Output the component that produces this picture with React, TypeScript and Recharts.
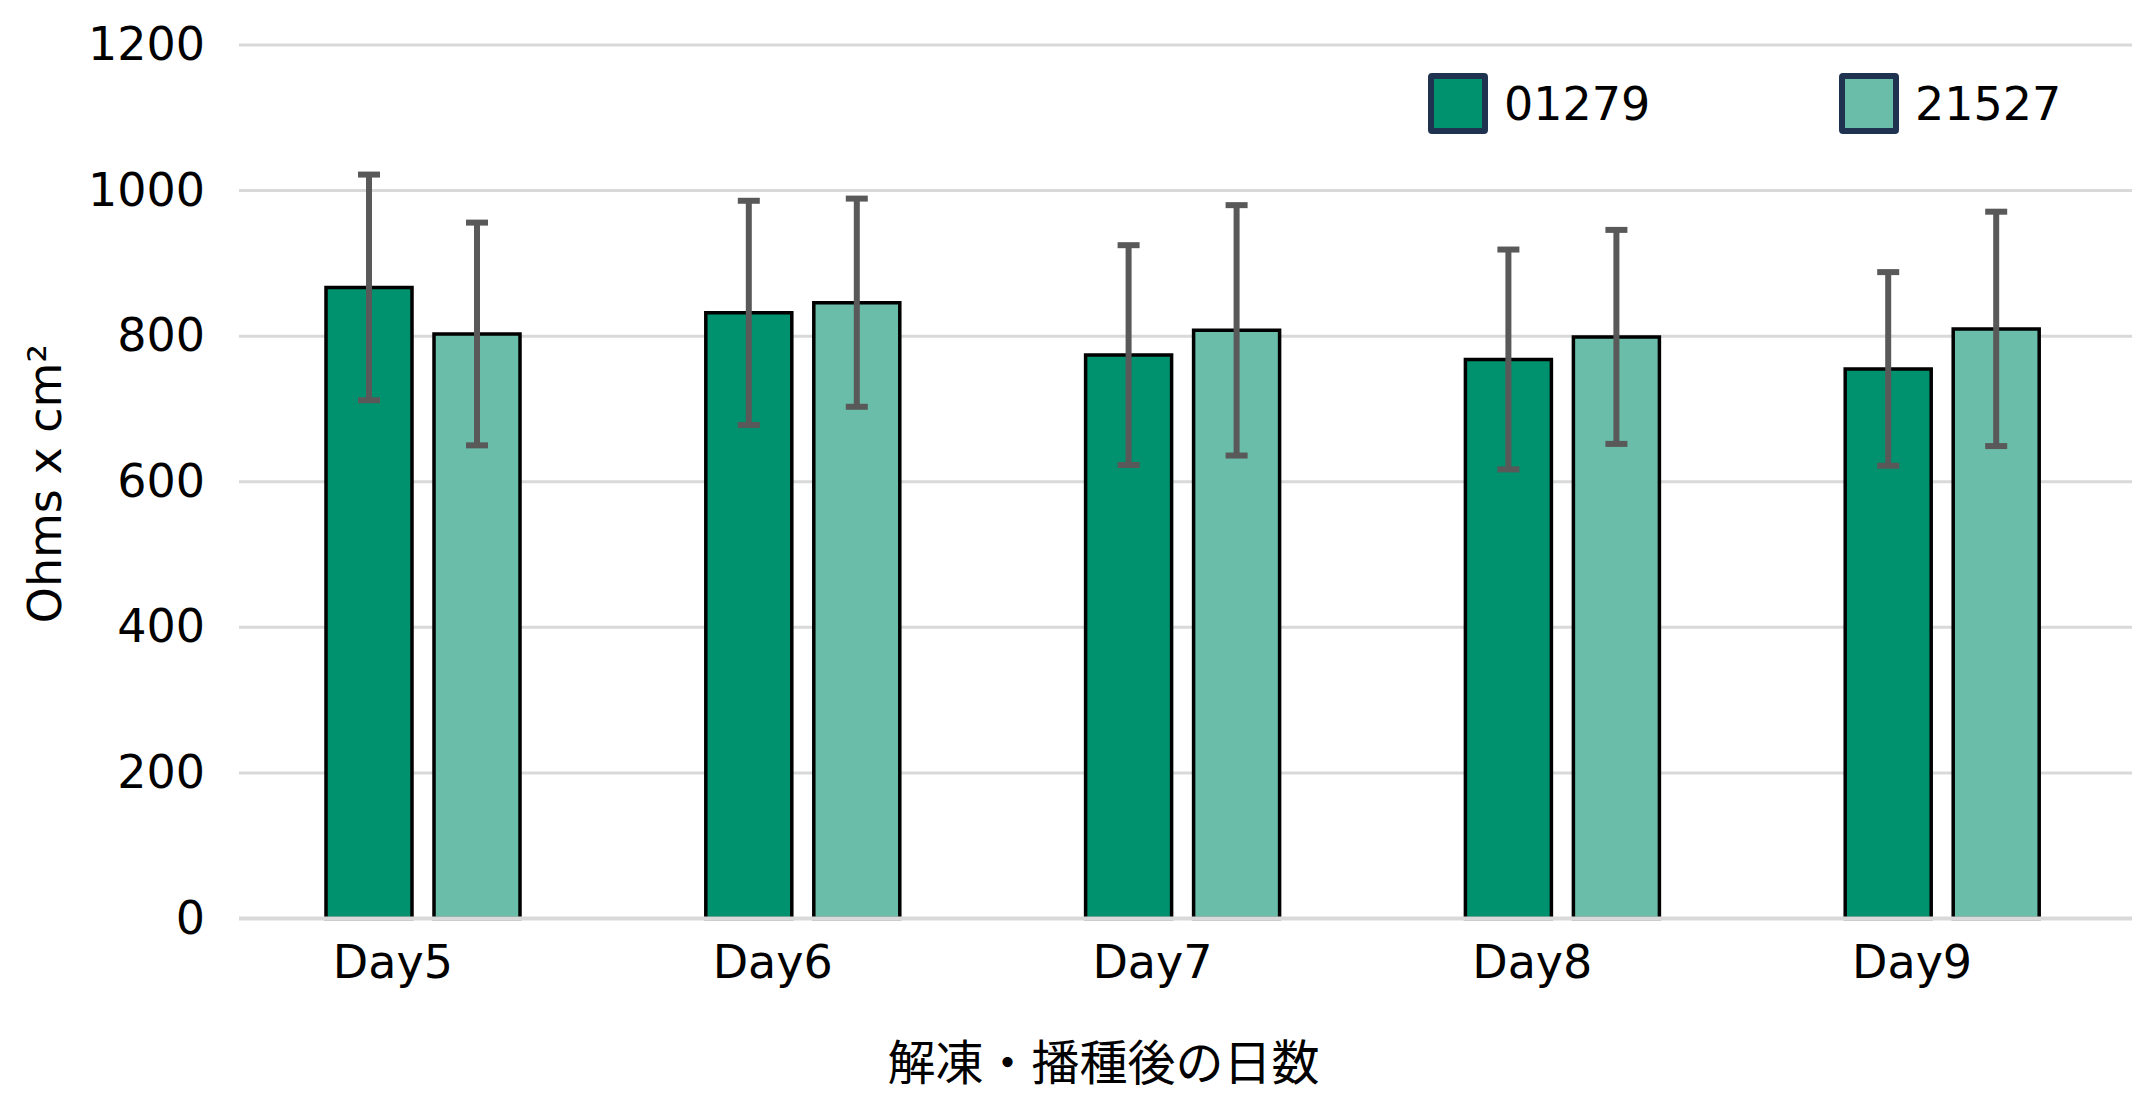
import { BarChart, Bar, XAxis, YAxis, CartesianGrid, ErrorBar } from 'recharts';

const days = ['Day5', 'Day6', 'Day7', 'Day8', 'Day9'];
const mean01279 = [867, 832, 774, 768, 755];
const sd01279 = [155, 154, 151, 151, 133];
const mean21527 = [803, 846, 808, 799, 810];
const sd21527 = [153, 143, 172, 147, 161];
const yTicks = [0, 200, 400, 600, 800, 1000, 1200];

const seriesNames = ['01279', '21527'];
const seriesColors = ['#00916E', '#69BDA9'];

const data = days.map((day, i) => ({
  day,
  a: mean01279[i],
  errA: sd01279[i],
  b: mean21527[i],
  errB: sd21527[i],
}));

const FONT = '"DejaVu Sans", Verdana, sans-serif';

const XTick = ({ x, y, payload }: any) => (
  <text x={x - 30} y={y + 59} textAnchor="middle" fontSize={46} fontFamily={FONT} fill="#000">
    {payload.value}
  </text>
);

const YTick = ({ x, y, payload }: any) => (
  <text x={x} y={y + 15} textAnchor="end" fontSize={46} fontFamily={FONT} fill="#000">
    {payload.value}
  </text>
);

const YLabel = ({ viewBox }: any) => {
  const cx = 45;
  const cy = viewBox.y + viewBox.height / 2 + 2;
  return (
    <text
      x={cx}
      y={cy}
      transform={`rotate(-90 ${cx} ${cy})`}
      textAnchor="middle"
      dominantBaseline="central"
      fontSize={46}
      fontFamily={FONT}
      fill="#000"
    >
      Ohms x cm²
    </text>
  );
};

const XLabel = ({ viewBox }: any) => (
  <text
    x={viewBox.x + viewBox.width / 2 - 82}
    y={1059}
    textAnchor="middle"
    dominantBaseline="central"
    fontSize={48}
    fontFamily='"Noto Sans CJK JP", sans-serif'
    fill="#000"
  >
    解凍・播種後の日数
  </text>
);

const legendLeft = [1428, 1839];

export default function App() {
  return (
    <div style={{ position: 'absolute', left: 0, top: 0, width: 2140, height: 1120, background: '#fff' }}>
      <BarChart
        width={2140}
        height={1120}
        data={data}
        margin={{ top: 45, right: 8, left: 0, bottom: 0 }}
        barSize={86}
        barGap={22}
      >
        <CartesianGrid vertical={false} stroke="#D9D9D9" strokeWidth={3} />
        <XAxis
          dataKey="day"
          height={201.5}
          padding={{ left: -6, right: 0 }}
          axisLine={{ stroke: '#D9D9D9', strokeWidth: 4 }}
          tickLine={false}
          tickSize={0}
          tickMargin={0}
          tick={<XTick />}
          label={<XLabel />}
        />
        <YAxis
          width={239}
          domain={[0, 1200]}
          ticks={yTicks}
          axisLine={false}
          tickLine={false}
          tickSize={0}
          tickMargin={34}
          tick={<YTick />}
          label={<YLabel />}
        />
        <Bar dataKey="a" name={seriesNames[0]} fill={seriesColors[0]} stroke="#000" strokeWidth={3.5} isAnimationActive={false}>
          <ErrorBar dataKey="errA" direction="y" width={11} strokeWidth={6} stroke="#595959" isAnimationActive={false} />
        </Bar>
        <Bar dataKey="b" name={seriesNames[1]} fill={seriesColors[1]} stroke="#000" strokeWidth={3.5} isAnimationActive={false}>
          <ErrorBar dataKey="errB" direction="y" width={11} strokeWidth={6} stroke="#595959" isAnimationActive={false} />
        </Bar>
      </BarChart>
      {seriesNames.map((name, i) => (
        <div
          key={name}
          style={{ position: 'absolute', left: legendLeft[i], top: 73, display: 'flex', alignItems: 'center', height: 61 }}
        >
          <div
            style={{
              width: 48,
              height: 49,
              border: '6px solid #1F3350',
              borderRadius: 4,
              background: seriesColors[i],
            }}
          />
          <span style={{ marginLeft: 16, fontSize: 46, fontFamily: FONT, color: '#000', lineHeight: 1 }}>{name}</span>
        </div>
      ))}
    </div>
  );
}
